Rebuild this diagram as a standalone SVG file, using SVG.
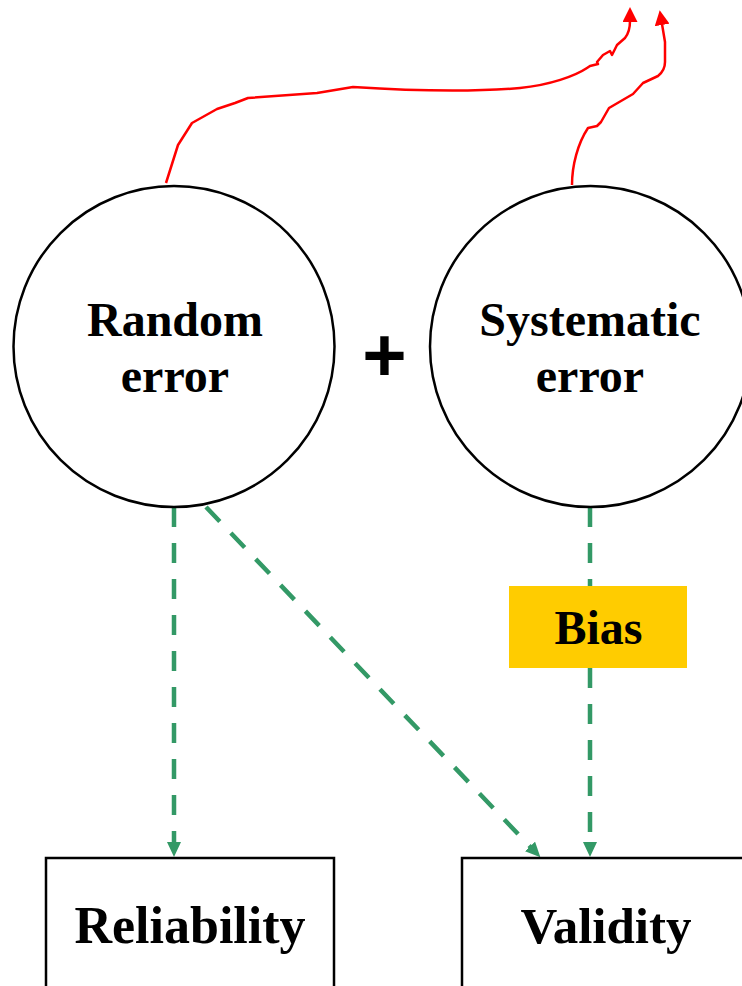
<svg xmlns="http://www.w3.org/2000/svg" width="742" height="986" viewBox="0 0 742 986">
<style>
.node{fill:#ffffff;stroke:#000000;stroke-width:2.5}
.lbl{font-family:"Liberation Serif","Times New Roman",serif;font-weight:bold;fill:#000000;text-anchor:middle}
.g{fill:none;stroke:#339966;stroke-width:4.5;stroke-dasharray:20 16}
.r{fill:none;stroke:#ff0000;stroke-width:2.5;stroke-linejoin:round}
</style>
<defs>
<marker id="ag" viewBox="0 0 15 14" refX="1" refY="7" markerWidth="15" markerHeight="14" markerUnits="userSpaceOnUse" orient="auto">
<path d="M0,0 L15,7 L0,14 z" fill="#339966"/>
</marker>
<marker id="ar" viewBox="0 0 15 15" refX="1" refY="7.5" markerWidth="15" markerHeight="15" markerUnits="userSpaceOnUse" orient="auto">
<path d="M0,0 L15,7.5 L0,15 z" fill="#ff0000"/>
</marker>
</defs>
<rect width="742" height="986" fill="#ffffff"/>
<g id="connectors">
<path class="r" d="M166,183 L178,145 L192,123 L217,109 L235,103 L248,98 L317,93 L353,87 C400,90 460,93 520,88 C550,85 575,76 587,68 L590,66 L598,64 L597,62 L603,55 L610,51 L612,55 L617,45 L625,38 C629,33 630,27 630,21" marker-end="url(#ar)"/>
<path class="r" d="M572,185 C572,165 578,143 588,128 L597,126 L601,122 L609,108 L633,94 L643,83 L658,76 C663,72 665,68 665,62 L665,42 L662,24" marker-end="url(#ar)"/>
<path class="g" d="M174,507 L174,843" marker-end="url(#ag)"/>
<path class="g" d="M206,507 L530.7,847.2" marker-end="url(#ag)"/>
<path class="g" d="M590,507 L590,586"/>
<path class="g" d="M590,668 L590,843" marker-end="url(#ag)"/>
</g>
<g id="random-error">
<circle class="node" cx="174" cy="346.5" r="160.5"/>
<text class="lbl" x="175" y="336" font-size="48">Random</text>
<text class="lbl" x="175" y="392" font-size="48">error</text>
</g>
<g id="plus">
<text x="384.5" y="381" font-family="Liberation Sans, Arial, sans-serif" font-weight="bold" font-size="76" text-anchor="middle" fill="#000000">+</text>
</g>
<g id="systematic-error">
<circle class="node" cx="590.5" cy="346.5" r="160.5"/>
<text class="lbl" x="590" y="336" font-size="48">Systematic</text>
<text class="lbl" x="590" y="392" font-size="48">error</text>
</g>
<g id="bias">
<rect x="509" y="586" width="178" height="82" fill="#ffcc00"/>
<text class="lbl" x="598.5" y="644" font-size="48">Bias</text>
</g>
<g id="reliability">
<rect class="node" x="46" y="858" width="288" height="140"/>
<text class="lbl" x="190" y="943" font-size="52">Reliability</text>
</g>
<g id="validity">
<rect class="node" x="462" y="858" width="288" height="140"/>
<text class="lbl" x="606" y="943" font-size="51">Validity</text>
</g>
</svg>
